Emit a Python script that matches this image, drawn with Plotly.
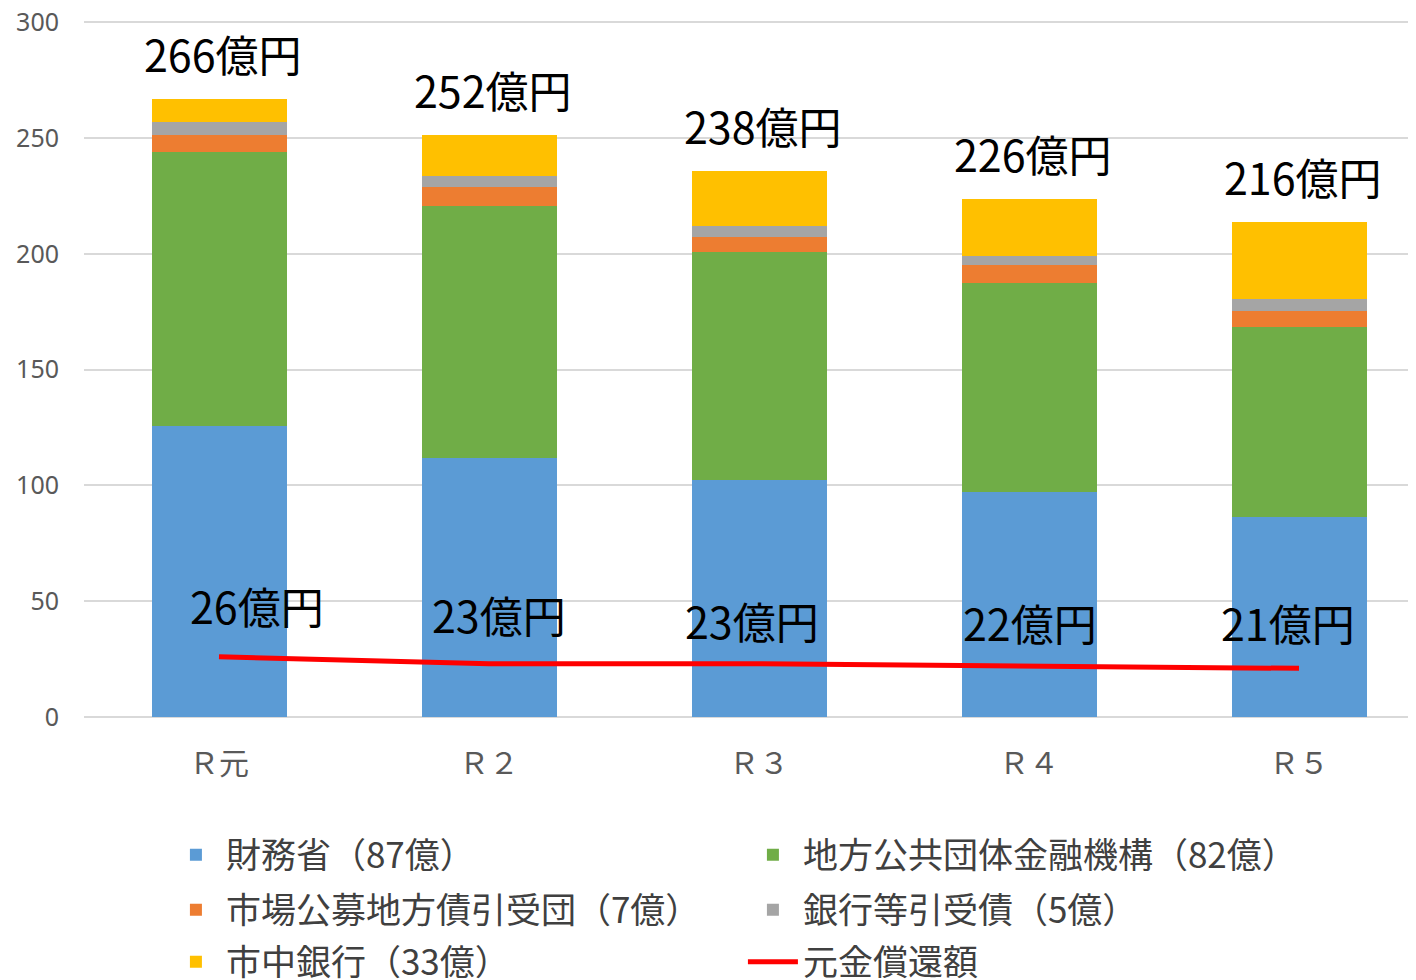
import plotly.graph_objects as go

# ---- data ----
categories = ["Ｒ元", "Ｒ２", "Ｒ３", "Ｒ４", "Ｒ５"]
zaimusho = [125.6, 112.0, 102.3, 97.1, 86.3]          # 財務省
chiho_kiko = [118.3, 108.5, 98.3, 90.2, 82.0]         # 地方公共団体金融機構
shijo_kobo = [7.3, 8.3, 6.7, 7.7, 6.9]                # 市場公募地方債引受団
ginko_hikiuke = [5.6, 4.7, 4.7, 4.3, 5.2]             # 銀行等引受債
shichu_ginko = [9.9, 17.7, 23.8, 24.5, 33.2]          # 市中銀行
repayment = [26, 23, 23, 22, 21]                      # 元金償還額
total_labels = [266, 252, 238, 226, 216]
series_names = ["財務省（87億）", "地方公共団体金融機構（82億）", "市場公募地方債引受団（7億）",
                "銀行等引受債（5億）", "市中銀行（33億）"]
line_name = "元金償還額"
y_ticks = [0, 50, 100, 150, 200, 250, 300]

colors = ["#5B9BD5", "#70AD47", "#ED7D31", "#A5A5A5", "#FFC000"]
legend_ids = ["legend", "legend", "legend2", "legend2", "legend3"]
repay_label_xshift = [38, 10, -7, 1, -11]
repay_label_yshift = [52, 50, 44, 44, 46]

JP = "Noto Sans CJK JP"

fig = go.Figure()
series = [zaimusho, chiho_kiko, shijo_kobo, ginko_hikiuke, shichu_ginko]
for name, vals, col, lg in zip(series_names, series, colors, legend_ids):
    fig.add_trace(go.Bar(x=categories, y=vals, name=name, marker=dict(color=col, line=dict(width=0)),
                         legend=lg))

fig.add_trace(go.Scatter(x=categories, y=repayment, name=line_name, mode="lines",
                         line=dict(color="#FF0000", width=5), legend="legend3"))

# total labels above bars
stack_tops = [sum(v) for v in zip(*series)]
for c, top, lab in zip(categories, stack_tops, total_labels):
    fig.add_annotation(x=c, y=top, text=f"{lab}億円", showarrow=False, yshift=46, xshift=4,
                       font=dict(family=JP, size=43, color="#000000"))
for c, v, xs, ys in zip(categories, repayment, repay_label_xshift, repay_label_yshift):
    fig.add_annotation(x=c, y=v, text=f"{v}億円", showarrow=False, yshift=ys, xshift=xs,
                       font=dict(family=JP, size=43, color="#000000"))

PH = 697  # plot area height in px
leg_common = dict(orientation="h", xanchor="left", yanchor="middle", x=0.0615,
                  entrywidth=512, entrywidthmode="pixels", itemwidth=50,
                  font=dict(family=JP, size=35, color="#404040"),
                  bgcolor="rgba(0,0,0,0)", traceorder="normal", itemclick=False)

# page body has an 8px margin; plot area spans x 84..1416, y 20..717 on the page
fig.update_layout(
    width=1408, height=972,
    margin=dict(l=76, r=0, t=12, b=263, autoexpand=False),
    paper_bgcolor="white", plot_bgcolor="white",
    barmode="stack", bargap=0.5,
    showlegend=True,
    legend=dict(**leg_common, y=(717 - 855) / PH),
    legend2=dict(**leg_common, y=(717 - 910) / PH),
    legend3=dict(**leg_common, y=(717 - 962) / PH),
    xaxis=dict(range=[-0.5, -0.5 + 1332 / 270], showgrid=False, zeroline=False,
               showline=False, ticks="", ticklabelstandoff=26,
               tickfont=dict(family=JP, size=30, color="#595959")),
    yaxis=dict(range=[0, 301], tickvals=y_ticks,
               showgrid=True, gridcolor="#D9D9D9", gridwidth=2,
               zeroline=True, zerolinecolor="#D9D9D9", zerolinewidth=2,
               ticks="", ticklabelstandoff=24, ticklabeloverflow="allow",
               tickfont=dict(family="Noto Sans", size=25, color="#595959")),
)

fig.write_html("out.html")
